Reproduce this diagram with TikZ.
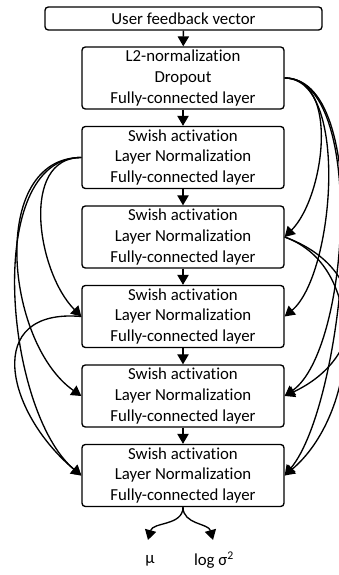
\documentclass[tikz,border=0pt]{standalone}
\usepackage{fontspec}
\setmainfont{Carlito}[RawFeature=-liga]
\usetikzlibrary{arrows.meta}
\tikzset{
  layer/.style={draw, line width=1pt, rounded corners=2.5pt, minimum width=151.5pt,
    minimum height=46.5pt, align=center, inner sep=0pt,
    font=\fontsize{12.6}{15.4}\selectfont},
  flow/.style={line width=1pt, -{Triangle[length=7.5pt,width=8.5pt]}},
  skip/.style={flow}
}
\begin{document}
\begin{tikzpicture}[x=0.75pt,y=0.75pt]
        \def \s {79.5}
        \useasboundingbox (0,0) rectangle (339,575);

        \node[layer, minimum width=207.75pt, minimum height=17.25pt] (in) at (183.5,556.5) {User feedback vector};
        \node[layer] (b1) at (183,497) {L2-normalization\\Dropout\\Fully-connected layer};
        \node[layer] (b2) at (183,497-1*\s) {Swish activation\\Layer Normalization\\Fully-connected layer};
        \node[layer] (b3) at (183,497-2*\s) {Swish activation\\Layer Normalization\\Fully-connected layer};
        \node[layer] (b4) at (183,497-3*\s) {Swish activation\\Layer Normalization\\Fully-connected layer};
        \node[layer] (b5) at (183,497-4*\s) {Swish activation\\Layer Normalization\\Fully-connected layer};
        \node[layer] (b6) at (183,497-5*\s) {Swish activation\\Layer Normalization\\Fully-connected layer};

        \draw[flow] (in) -- (b1);
        \draw[flow] (b1) -- (b2);
        \draw[flow] (b2) -- (b3);
        \draw[flow] (b3) -- (b4);
        \draw[flow] (b4) -- (b5);
        \draw[flow] (b5) -- (b6);

        \draw[skip] (b2.west) to[out=180,in=135] (b4.west);
        \draw[skip] (b2.west) to[out=180,in=145] (b5.west);
        \draw[skip] (b2.west) to[out=180,in=140,looseness=0.8] (b6.west);
        \draw[skip] (b4.west) to[out=175,in=140,looseness=1.6] (b6.west);

        \draw[skip] (b1.east) to[out=0,in=45,looseness=0.9] (b3.east);
        \draw[skip] (b1.east) to[out=0,in=40,looseness=0.7] (b4.east);
        \draw[skip] (b1.east) to[out=0,in=35,looseness=0.65] (b5.east);
        \draw[skip] (b1.east) to[out=0,in=50,looseness=0.6] (b6.east);
        \draw[skip] (b3.east) to[out=-20,in=25,looseness=1.5] (b5.east);
        \draw[skip] (b3.east) to[out=-20,in=40] (b6.east);

        \coordinate (mu) at (148,35);
        \coordinate (sig) at (213,35);
        \draw[flow] (b6.south) to[out=-90,in=75] (mu);
        \draw[flow] (b6.south) to[out=-90,in=105] (sig);
        \node[font=\fontsize{12.6}{15.4}\selectfont] (mulabel) at (150,14) {μ};
        \node[font=\fontsize{12.6}{15.4}\selectfont] (siglabel) at (214,15) {log σ\textsuperscript{2}};
\end{tikzpicture}
\end{document}
